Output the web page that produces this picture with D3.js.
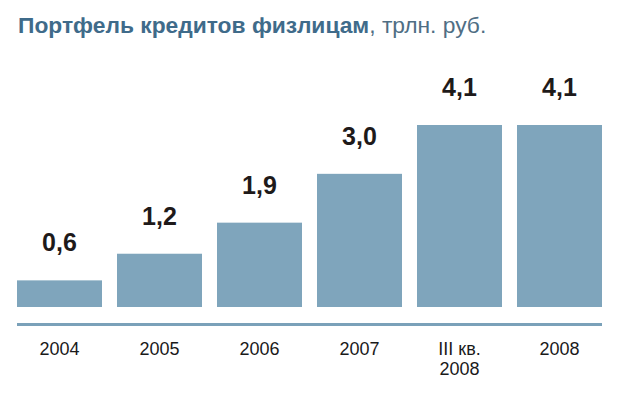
<!DOCTYPE html>
<html>
<head>
<meta charset="utf-8">
<script src="https://cdn.jsdelivr.net/npm/d3@7"></script>
<style>
  body { margin: 0; background: #fff; }
  svg { display: block; font-family: Arial, "Liberation Sans", sans-serif; }
</style>
</head>
<body>
<script>
// data
const categories = ["2004", "2005", "2006", "2007", "III кв.|2008", "2008"];
const values = [0.6, 1.2, 1.9, 3.0, 4.1, 4.1];
const valueLabels = ["0,6", "1,2", "1,9", "3,0", "4,1", "4,1"];

const width = 621, height = 394;
const barColor = "#7fa5bc";

const svg = d3.select("body").append("svg")
  .attr("width", width)
  .attr("height", height);

// title
const title = svg.append("text")
  .attr("x", 18)
  .attr("y", 33)
  .attr("font-size", 22.8);
title.append("tspan")
  .attr("font-weight", "bold")
  .attr("fill", "#3f6b8a")
  .text("Портфель кредитов физлицам");
title.append("tspan")
  .attr("fill", "#4f6e84")
  .text(", трлн. руб.");

const x = d3.scaleBand()
  .domain(categories)
  .range([17, 602])
  .paddingInner(0.15)
  .paddingOuter(0);

const y = d3.scaleLinear()
  .domain([0, 4.1])
  .range([307, 125]);

const data = categories.map((c, i) => ({cat: c, v: values[i], lab: valueLabels[i]}));

svg.append("g")
  .selectAll("rect")
  .data(data)
  .join("rect")
    .attr("x", d => x(d.cat))
    .attr("y", d => y(d.v))
    .attr("width", x.bandwidth())
    .attr("height", d => y(0) - y(d.v))
    .attr("fill", barColor);

svg.append("g")
  .selectAll("text")
  .data(data)
  .join("text")
    .attr("x", d => x(d.cat) + x.bandwidth() / 2)
    .attr("y", d => y(d.v) - 29)
    .attr("text-anchor", "middle")
    .attr("font-size", 25)
    .attr("font-weight", "bold")
    .attr("fill", "#1e1a1a")
    .text(d => d.lab);

// baseline
svg.append("rect")
  .attr("x", 17)
  .attr("y", 323)
  .attr("width", 602 - 17)
  .attr("height", 3)
  .attr("fill", "#7aa1b9");

// category labels
const cl = svg.append("g")
  .selectAll("text")
  .data(data)
  .join("text")
    .attr("x", d => x(d.cat) + x.bandwidth() / 2)
    .attr("y", 355)
    .attr("text-anchor", "middle")
    .attr("font-size", 18)
    .attr("fill", "#1a1a1a");
cl.each(function(d) {
  const lines = d.cat.split("|");
  const t = d3.select(this);
  lines.forEach((ln, j) => {
    t.append("tspan")
      .attr("x", x(d.cat) + x.bandwidth() / 2)
      .attr("dy", j === 0 ? 0 : 20)
      .text(ln);
  });
});
</script>
</body>
</html>
